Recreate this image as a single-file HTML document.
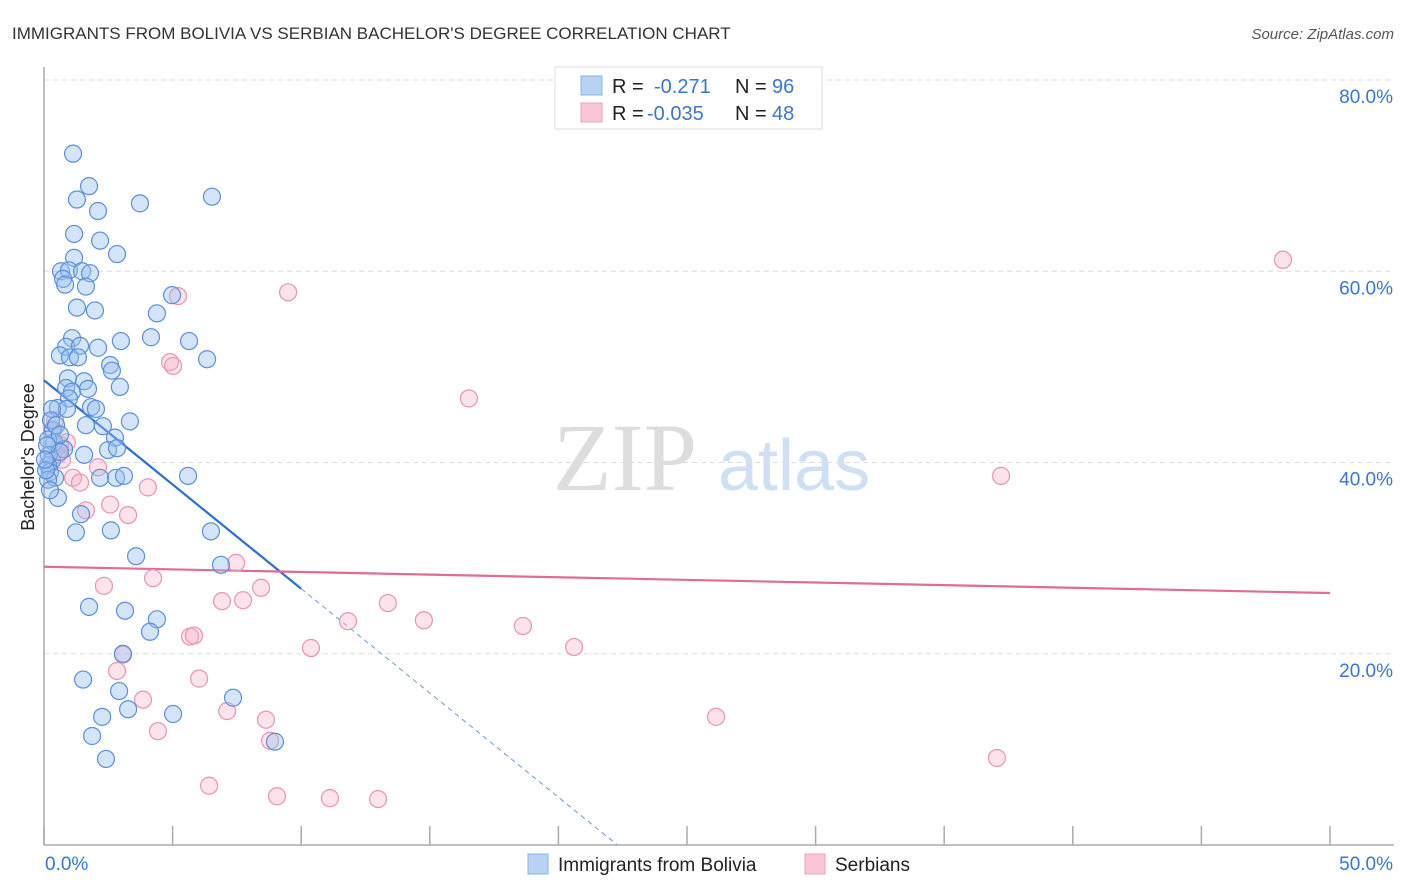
<!DOCTYPE html>
<html><head><meta charset="utf-8"><style>
body{margin:0;background:#fff;font-family:"Liberation Sans",sans-serif;}
svg{display:block}
</style></head><body>
<svg id="chart" width="1406" height="892" xmlns="http://www.w3.org/2000/svg">
<text x="12" y="39" font-size="17" fill="#333">IMMIGRANTS FROM BOLIVIA VS SERBIAN BACHELOR'S DEGREE CORRELATION CHART</text>
<text x="1394" y="39" font-size="15" fill="#555" font-style="italic" text-anchor="end">Source: ZipAtlas.com</text>
<g>
<text x="553" y="490" font-size="96" fill="#ddd" font-family="Liberation Serif,serif">ZIP</text>
<text x="718" y="490" font-size="72" fill="#cfe0f5">atlas</text>
</g>
<g id="grid"></g><g id="axes"></g><g id="lines"></g><g id="points"></g>
<text transform="translate(34,457) rotate(-90)" font-size="18" fill="#222" text-anchor="middle">Bachelor's Degree</text>
<g>
<rect x="555" y="67" width="267" height="62" fill="#fff" stroke="#ddd"/>
<rect x="581" y="76" width="21" height="19" fill="#b9d3f5" stroke="#86b0e8"/>
<rect x="581" y="103" width="21" height="19" fill="#f8c6d6" stroke="#eea0ba"/>
<text x="612" y="93" font-size="20" fill="#222">R = <tspan x="654" fill="#3a75d0">-0.271</tspan><tspan x="735" fill="#222">N = </tspan><tspan x="772" fill="#3a75d0">96</tspan></text>
<text x="612" y="120" font-size="20" fill="#222">R = <tspan x="647" fill="#3a75d0">-0.035</tspan><tspan x="735" fill="#222">N = </tspan><tspan x="772" fill="#3a75d0">48</tspan></text>
</g>
<g>
<rect x="528" y="854" width="20" height="20" fill="#b9d3f5" stroke="#86b0e8"/>
<text x="558" y="871" font-size="19" fill="#222">Immigrants from Bolivia</text>
<rect x="805" y="854" width="20" height="20" fill="#f8c6d6" stroke="#eea0ba"/>
<text x="835" y="871" font-size="19" fill="#222">Serbians</text>
</g>
</svg>
<script>
const yTicks=[20,40,60,80];
const yTickLabels=["20.0%","40.0%","60.0%","80.0%"];
const xTickCount=[0,5,10,15,20,25,30,35,40,45,50];
const xTickLabels=["0.0%","50.0%"];
const blueX=[1.13,1.75,1.28,3.73,2.10,6.53,1.17,2.18,2.84,1.17,0.66,0.97,1.48,1.79,0.74,0.82,1.63,4.98,1.98,1.28,4.39,1.09,4.16,2.99,5.64,0.86,1.40,0.62,2.10,1.01,1.32,6.34,2.57,2.64,0.93,1.56,0.86,1.09,1.71,2.95,0.97,0.54,1.83,2.02,0.89,0.31,1.63,3.34,2.29,0.35,2.76,0.39,2.49,0.78,2.84,1.56,0.31,0.16,0.23,0.43,2.18,0.16,2.80,3.11,0.54,5.60,1.44,2.60,1.24,6.49,3.58,6.88,1.75,3.15,4.39,4.12,3.07,1.52,2.92,7.35,3.27,5.02,2.26,1.87,8.98,2.41,0.16,0.19,0.62,0.27,0.47,0.62,0.08,0.23,0.12,0.04];
const blueY=[72.3,68.9,67.5,67.1,66.3,67.8,63.9,63.2,61.8,61.4,60.0,60.1,60.0,59.8,59.2,58.6,58.4,57.5,55.9,56.2,55.6,53.0,53.1,52.7,52.7,52.1,52.2,51.2,52.0,51.0,51.0,50.8,50.2,49.6,48.8,48.5,47.8,47.4,47.7,47.9,46.7,45.7,45.8,45.6,45.6,45.6,43.9,44.3,43.8,43.4,42.6,42.1,41.3,41.4,41.5,40.8,40.2,39.7,39.0,38.4,38.4,38.2,38.4,38.6,36.3,38.6,34.6,32.9,32.7,32.8,30.2,29.3,24.9,24.5,23.6,22.3,20.0,17.3,16.1,15.4,14.2,13.7,13.4,11.4,10.8,9.0,42.4,40.8,41.1,44.4,43.9,42.9,39.2,37.1,41.8,40.3];
const pinkX=[48.17,9.49,5.21,4.90,5.02,16.52,0.43,0.31,0.89,0.54,0.70,2.10,1.13,1.40,37.21,4.04,2.57,1.63,3.27,7.47,2.33,4.24,6.92,7.74,8.44,13.37,11.82,14.77,18.62,5.68,5.83,10.38,20.61,3.07,2.84,6.03,3.85,7.12,8.63,26.13,4.43,8.79,37.05,6.42,9.06,11.12,12.99,0.62];
const pinkY=[61.2,57.8,57.4,50.5,50.1,46.7,44.4,43.4,42.1,40.8,40.3,39.5,38.4,37.9,38.6,37.4,35.6,35.0,34.5,29.5,27.1,27.9,25.5,25.6,26.9,25.3,23.4,23.5,22.9,21.8,21.9,20.6,20.7,19.9,18.2,17.4,15.2,14.0,13.1,13.4,11.9,10.9,9.1,6.2,5.1,4.9,4.8,41.8];
const blueFit=[48.6,-2.18];
const pinkFit=[29.1,-0.055];
const NS="http://www.w3.org/2000/svg";
const X=v=>44+v*25.72, Y=v=>845-v*9.5625;
function mk(tag,attrs,parent){const e=document.createElementNS(NS,tag);for(const k in attrs)e.setAttribute(k,attrs[k]);document.getElementById(parent).appendChild(e);return e;}
yTicks.forEach((t,i)=>{
 const l=mk('line',{x1:44,x2:1394,y1:Y(t),y2:Y(t),stroke:'#ddd','stroke-dasharray':'5,4'},'grid');
 
 
 const tx=mk('text',{x:1393,y:Y(t)+23,'font-size':19,fill:'#3a75d0','text-anchor':'end'},'grid');
 tx.textContent=yTickLabels[i];
 
 
});
const ax=mk('line',{x1:44,x2:44,y1:67,y2:845,stroke:'#aaa','stroke-width':1.5},'axes');


const bx=mk('line',{x1:44,x2:1394,y1:845,y2:845,stroke:'#aaa','stroke-width':1.5},'axes');


xTickCount.forEach(t=>{
 const l=mk('line',{x1:X(t),x2:X(t),y1:826,y2:845,stroke:'#aaa','stroke-width':1.5},'axes');
 
 
});
[[0,'start',45],[50,'end',1393]].forEach((a,i)=>{
 const tx=mk('text',{x:a[2],y:870,'font-size':19,fill:'#3a75d0','text-anchor':a[1]},'axes');
 tx.textContent=xTickLabels[i];
 
 
});
function pts(xs,ys,fill,stroke,name){xs.forEach((x,i)=>{
 const c=mk('circle',{cx:X(x),cy:Y(ys[i]),r:8.5,fill:fill,stroke:stroke,'stroke-width':1.2},'points');
 
 
});}
pts(pinkX,pinkY,'rgba(246,176,200,0.35)','#eb93b0','point-serbians');
pts(blueX,blueY,'rgba(150,190,240,0.4)','#5a8fdc','point-bolivia');
const bf=x=>blueFit[0]+blueFit[1]*x, pf=x=>pinkFit[0]+pinkFit[1]*x;
const xEnd=-blueFit[0]/blueFit[1];
const l1=mk('line',{x1:X(0),y1:Y(bf(0)),x2:X(10),y2:Y(bf(10)),stroke:'#2a6fd6','stroke-width':2.2},'lines');


const l2=mk('line',{x1:X(10),y1:Y(bf(10)),x2:X(xEnd),y2:Y(0),stroke:'#6b9be0','stroke-width':1,'stroke-dasharray':'5,4'},'lines');


const l3=mk('line',{x1:X(0),y1:Y(pf(0)),x2:X(50),y2:Y(pf(50)),stroke:'#e26a96','stroke-width':2.2},'lines');


</script>
</body></html>
